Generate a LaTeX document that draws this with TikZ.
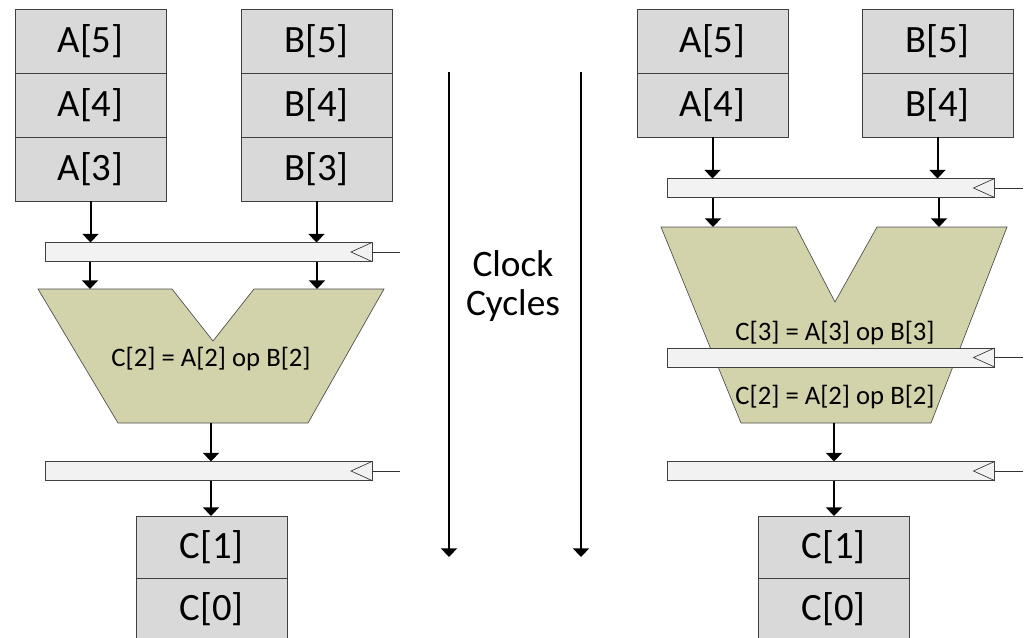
\documentclass[tikz,border=0pt]{standalone}
\usepackage{fontspec}
\setmainfont{Carlito}
\usetikzlibrary{positioning,arrows.meta}

\definecolor{cellgray}{RGB}{217,217,217}
\definecolor{reggray}{RGB}{242,242,242}
\definecolor{alugreen}{RGB}{210,211,171}

\begin{document}
\begin{tikzpicture}[
  x=0.75pt, y=-0.75pt,
  cell/.style={rectangle, draw=black!75, line width=0.6pt, fill=cellgray, outer sep=0pt,
               minimum width=113.25pt, minimum height=48pt, inner sep=0pt,
               font=\fontsize{29}{32}\selectfont},
  ccell/.style={cell, minimum height=46.5pt},
  reg/.style={rectangle, draw=black!75, line width=0.6pt, fill=reggray, outer sep=0pt,
              minimum width=245.25pt, minimum height=14.25pt, inner sep=0pt},
  alu/.style={draw=black!70, line width=0.5pt, fill=alugreen},
  wire/.style={line width=1.5pt, -{Triangle[width=12pt,length=6.5pt]}},
  clk/.style={line width=0.5pt, draw=black!80},
  optext/.style={font=\fontsize{20}{22}\selectfont}
]
\useasboundingbox (0,0) rectangle (1024,638);

% one adder stage
\node[cell] (la5) at (90.5,41) {A[5]};
\node[cell, below=0pt of la5] (la4) {A[4]};
\node[cell, below=0pt of la4] (la3) {A[3]};
\node[cell] (lb5) at (316.5,41) {B[5]};
\node[cell, below=0pt of lb5] (lb4) {B[4]};
\node[cell, below=0pt of lb4] (lb3) {B[3]};

\node[reg] (lr1) at (208.5,252) {};

\draw[alu] (38,289) -- (172,289) -- (213,341) -- (254,289) -- (384,289)
  -- (308,423) -- (118,423) -- cycle;
\coordinate (lina) at (90,289);
\coordinate (linb) at (317,289);
\coordinate (lout) at (211,423);
\node[optext] (lop2) at (211,359) {C[2] = A[2] op B[2]};

\node[reg] (lr2) at (208.5,471) {};
\node[ccell] (lc1) at (211.5,547) {C[1]};
\node[ccell, below=0pt of lc1] (lc0) {C[0]};

\draw[wire] (la3.south) -- (la3.south |- lr1.north);
\draw[wire] (lb3.south) -- (lb3.south |- lr1.north);
\draw[wire] (lr1.south -| lina) -- (lina);
\draw[wire] (lr1.south -| linb) -- (linb);
\draw[wire] (lout) -- (lout |- lr2.north);
\draw[wire] (lr2.south -| lout) -- (lout |- lc1.north);

% time axis
\coordinate (cyc1s) at (449,72);
\coordinate (cyc1e) at (449,557);
\coordinate (cyc2s) at (581,72);
\coordinate (cyc2e) at (581,557);
\draw[wire] (cyc1s) -- (cyc1e);
\draw[wire] (cyc2s) -- (cyc2e);
\node[font=\fontsize{28}{29}\selectfont, align=center] (cyc) at (513,286) {Clock\\Cycles};

% split into two stages
\node[cell] (ra5) at (712.5,41) {A[5]};
\node[cell, below=0pt of ra5] (ra4) {A[4]};
\node[cell] (rb5) at (937.5,41) {B[5]};
\node[cell, below=0pt of rb5] (rb4) {B[4]};

\node[reg] (rr1) at (831,188) {};

\draw[alu] (661,227) -- (796,227) -- (835,302) -- (877,227) -- (1007,227)
  -- (931,423) -- (741,423) -- cycle;
\coordinate (rina) at (713,227);
\coordinate (rinb) at (939,227);
\coordinate (rout) at (834,423);
\node[optext] (rop3) at (835,333) {C[3] = A[3] op B[3]};
\node[reg] (rr2) at (831,357.5) {};
\node[optext] (rop2) at (835,397) {C[2] = A[2] op B[2]};

\node[reg] (rr3) at (831,471) {};
\node[ccell] (rc1) at (833.5,547) {C[1]};
\node[ccell, below=0pt of rc1] (rc0) {C[0]};

\draw[wire] (ra4.south) -- (ra4.south |- rr1.north);
\draw[wire] (rb4.south) -- (rb4.south |- rr1.north);
\draw[wire] (rr1.south -| rina) -- (rina);
\draw[wire] (rr1.south -| rinb) -- (rinb);
\draw[wire] (rout) -- (rout |- rr3.north);
\draw[wire] (rr3.south -| rout) -- (rout |- rc1.north);

% clock inputs
\foreach \rg in {lr1,lr2,rr1,rr2,rr3} {
  \draw[clk] (\rg.north east) -- ([xshift=-15.75pt]\rg.east) -- (\rg.south east);
  \draw[clk] (\rg.east) -- ++(28,0);
}
\end{tikzpicture}
\end{document}
